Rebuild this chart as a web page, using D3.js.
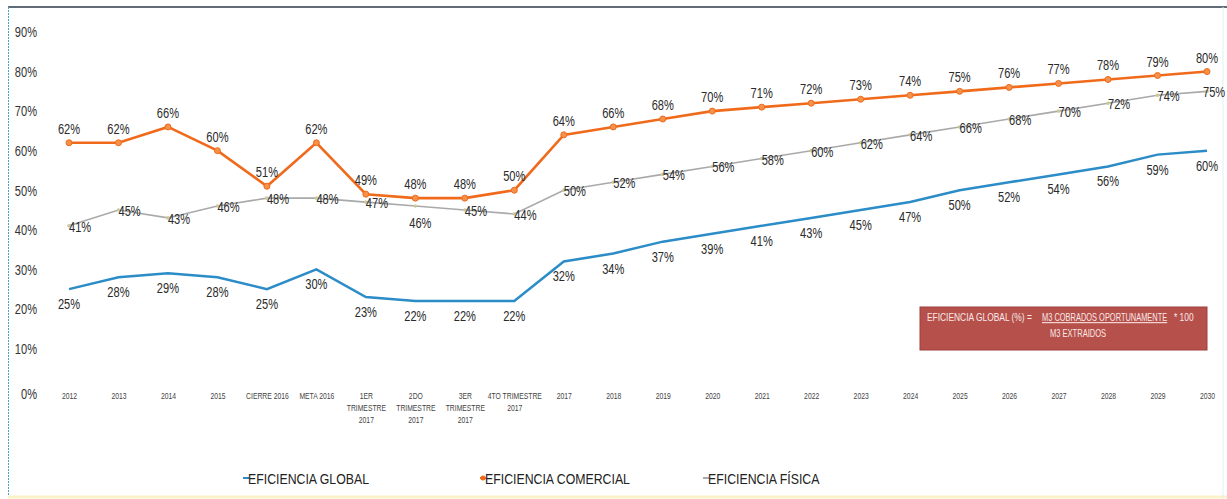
<!DOCTYPE html>
<html><head><meta charset="utf-8">
<script src="https://cdn.jsdelivr.net/npm/d3@7"></script>
<style>
html,body{margin:0;padding:0;background:#fff;}
svg{display:block;}
text{font-family:"Liberation Sans",Arial,sans-serif;}
</style></head>
<body>
<svg id="c" width="1227" height="499"></svg>
<script>
const categories = ["2012","2013","2014","2015","CIERRE 2016","META 2016","1ER TRIMESTRE 2017","2DO TRIMESTRE 2017","3ER TRIMESTRE 2017","4TO TRIMESTRE 2017","2017","2018","2019","2020","2021","2022","2023","2024","2025","2026","2027","2028","2029","2030"];
const tickLines = [["2012"],["2013"],["2014"],["2015"],["CIERRE 2016"],["META 2016"],["1ER","TRIMESTRE","2017"],["2DO","TRIMESTRE","2017"],["3ER","TRIMESTRE","2017"],["4TO TRIMESTRE","2017"],["2017"],["2018"],["2019"],["2020"],["2021"],["2022"],["2023"],["2024"],["2025"],["2026"],["2027"],["2028"],["2029"],["2030"]];
const global = [25,28,29,28,25,30,23,22,22,22,32,34,37,39,41,43,45,47,50,52,54,56,59,60];
const comercial = [62,62,66,60,51,62,49,48,48,50,64,66,68,70,71,72,73,74,75,76,77,78,79,80];
const fisica = [41,45,43,46,48,48,47,46,45,44,50,52,54,56,58,60,62,64,66,68,70,72,74,75];
const yTicks = [0,10,20,30,40,50,60,70,80,90];
const seriesNames = ["EFICIENCIA GLOBAL","EFICIENCIA COMERCIAL","EFICIENCIA FÍSICA"];

const svg = d3.select("#c");
const W = 1227, H = 499;
const SX = 0.74;
function squeeze(sel, sx){
  sel.each(function(){
    const t = d3.select(this);
    const xx = +t.attr("x") || 0;
    t.attr("transform", `translate(${xx},0) scale(${sx},1) translate(${-xx},0)`);
  });
}

// frame
svg.append("line").attr("x1",8).attr("x2",W).attr("y1",7).attr("y2",7).attr("stroke","#2d3b48").attr("stroke-width",1.5);
svg.append("line").attr("x1",8.5).attr("x2",8.5).attr("y1",7).attr("y2",H).attr("stroke","#4aa3c8").attr("stroke-width",1).attr("stroke-dasharray","2,1");
svg.append("line").attr("x1",8).attr("x2",W).attr("y1",497).attr("y2",497).attr("stroke","#fbf3c8").attr("stroke-width",3);
svg.append("line").attr("x1",1223).attr("x2",1223).attr("y1",7).attr("y2",H).attr("stroke","#e3eef2").attr("stroke-width",1);

const x = d3.scalePoint().domain(categories).range([69,1207]);
const y = d3.scaleLinear().domain([0,90]).range([388,32]);

// y axis labels
const yAxis = d3.axisLeft(y).tickValues(yTicks).tickFormat(d=>d+"%").tickSize(0).tickPadding(0);
const ya = svg.append("g").attr("transform","translate(37,0)").call(yAxis);
ya.select(".domain").remove();
ya.selectAll("text").attr("font-size",15).attr("fill","#333").attr("font-family",null);
ya.selectAll(".tick").filter(d=>d===0).select("text").attr("dy","0.7em");
squeeze(ya.selectAll("text"), SX);

// x axis labels
const xAxis = d3.axisBottom(x).tickSize(0).tickFormat(()=> "");
const xa = svg.append("g").attr("transform","translate(0,389)").call(xAxis);
xa.select(".domain").remove();
xa.selectAll(".tick").each(function(d,i){
  const t = d3.select(this).select("text").attr("font-size",8.5).attr("fill","#444").attr("font-family",null).attr("y",0).attr("dy",null);
  tickLines[i].forEach((ln,k)=>{
    t.append("tspan").attr("x",0).attr("y",10+k*12).text(ln);
  });
  t.attr("transform","scale(0.8,1)");
});

const colGlobal = "#2b8cc8", colCom = "#f06a1c", colFis = "#a9a9a9";

// lines
svg.append("path").datum(global).attr("fill","none").attr("stroke",colGlobal).attr("stroke-width",2.5)
  .attr("d", d3.line().x((d,i)=>x(categories[i])).y(d=>y(d)));
svg.append("path").datum(fisica).attr("fill","none").attr("stroke",colFis).attr("stroke-width",1.6)
  .attr("d", d3.line().x((d,i)=>x(categories[i])).y(d=>y(d)));
svg.append("path").datum(comercial).attr("fill","none").attr("stroke",colCom).attr("stroke-width",2.6)
  .attr("d", d3.line().x((d,i)=>x(categories[i])).y(d=>y(d)));

svg.append("g").selectAll("circle").data(fisica).join("circle")
  .attr("cx",(d,i)=>x(categories[i])).attr("cy",d=>y(d)).attr("r",1.8).attr("fill","#c9c9a0");
svg.append("g").selectAll("circle").data(comercial).join("circle")
  .attr("cx",(d,i)=>x(categories[i])).attr("cy",d=>y(d)).attr("r",3).attr("fill","#f5924a").attr("stroke",colCom).attr("stroke-width",1);

// data labels
const lab = svg.append("g").attr("font-size",15).attr("fill","#2a2a2a");
lab.selectAll(".lc").data(comercial).join("text")
  .attr("x",(d,i)=>x(categories[i])).attr("y",d=>y(d)-9).attr("text-anchor","middle").text(d=>d+"%");
lab.selectAll(".lf").data(fisica).join("text")
  .attr("x",(d,i)=>x(categories[i]) + (i===7?5:(i===23?-4:0)))
  .attr("y",(d,i)=>y(d) + (i===7?22:6))
  .attr("text-anchor",(d,i)=>i===7?"middle":"start").text(d=>d+"%");
lab.selectAll(".lg").data(global).join("text")
  .attr("x",(d,i)=>x(categories[i])).attr("y",d=>y(d)+20).attr("text-anchor","middle").text(d=>d+"%");
squeeze(lab.selectAll("text"), SX);

// formula box
const bx = svg.append("g");
bx.append("rect").attr("x",920).attr("y",307).attr("width",287).attr("height",43).attr("fill","#b5504b").attr("stroke","#9e3f3a").attr("stroke-width",1);
const bt = bx.append("g").attr("font-size",10.5).attr("fill","#fbe9e7");
const b1 = bt.append("text").attr("x",927).attr("y",321).text("EFICIENCIA GLOBAL (%) =");
const b2 = bt.append("text").attr("x",1042).attr("y",321).attr("text-decoration","underline").text("M3 COBRADOS OPORTUNAMENTE");
const b3 = bt.append("text").attr("x",1174).attr("y",321).text("* 100");
const b4 = bt.append("text").attr("x",1050).attr("y",337).text("M3 EXTRAIDOS");
squeeze(b1, 0.8); squeeze(b2, 0.71); squeeze(b3, 0.8); squeeze(b4, 0.72);

// legend
const legX = [246,483,706];
const legCols = [colGlobal,colCom,colFis];
const lg = svg.append("g");
seriesNames.forEach((n,i)=>{
  lg.append("line").attr("x1",legX[i]-3).attr("x2",legX[i]+3).attr("y1",478).attr("y2",478).attr("stroke",legCols[i]).attr("stroke-width",2);
  if(i===1) lg.append("circle").attr("cx",legX[i]).attr("cy",478).attr("r",2.5).attr("fill",colCom);
  const t = lg.append("text").attr("x",legX[i]+2).attr("y",484).attr("font-size",14).attr("fill","#222").text(n);
  squeeze(t, 0.88);
});
</script>
</body></html>
